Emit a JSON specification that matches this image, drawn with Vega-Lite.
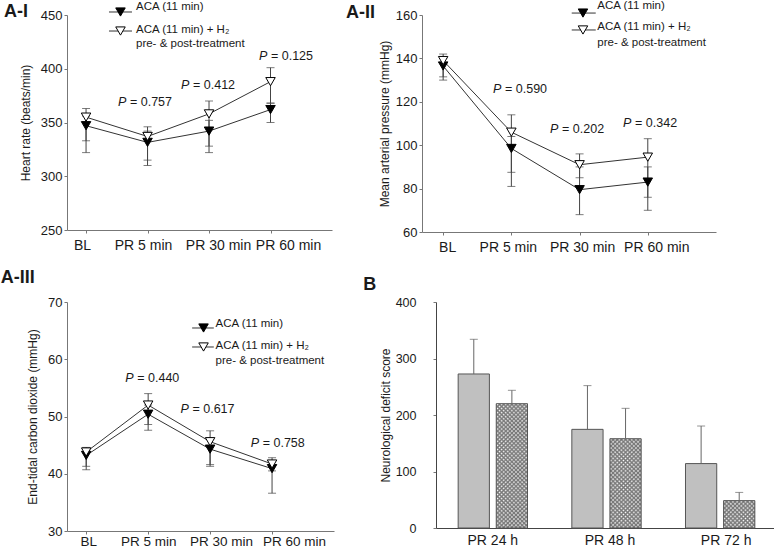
{
  "$schema": "https://vega.github.io/schema/vega-lite/v6.json",
  "padding": 0,
  "background": "white",
  "datasets": {
    "hr": [
      {"time": "BL", "i": 0, "group": "ACA", "mean": 347, "lo": 322, "hi": 356},
      {"time": "PR 5 min", "i": 1, "group": "ACA", "mean": 331.5, "lo": 310, "hi": 342},
      {"time": "PR 30 min", "i": 2, "group": "ACA", "mean": 342, "lo": 322, "hi": 352},
      {"time": "PR 60 min", "i": 3, "group": "ACA", "mean": 362, "lo": 350, "hi": 368},
      {"time": "BL", "i": 0, "group": "H2", "mean": 355, "lo": 333, "hi": 363},
      {"time": "PR 5 min", "i": 1, "group": "H2", "mean": 337, "lo": 315, "hi": 346},
      {"time": "PR 30 min", "i": 2, "group": "H2", "mean": 358, "lo": 328, "hi": 370},
      {"time": "PR 60 min", "i": 3, "group": "H2", "mean": 388, "lo": 368, "hi": 401}
    ],
    "map": [
      {"time": "BL", "i": 0, "group": "ACA", "mean": 136.5, "lo": 130, "hi": 140},
      {"time": "PR 5 min", "i": 1, "group": "ACA", "mean": 98.5, "lo": 81, "hi": 104},
      {"time": "PR 30 min", "i": 2, "group": "ACA", "mean": 79.5, "lo": 68, "hi": 90},
      {"time": "PR 60 min", "i": 3, "group": "ACA", "mean": 83, "lo": 70, "hi": 90},
      {"time": "BL", "i": 0, "group": "H2", "mean": 139, "lo": 131.5, "hi": 142},
      {"time": "PR 5 min", "i": 1, "group": "H2", "mean": 106, "lo": 87.5, "hi": 114},
      {"time": "PR 30 min", "i": 2, "group": "H2", "mean": 91, "lo": 85, "hi": 96},
      {"time": "PR 60 min", "i": 3, "group": "H2", "mean": 94.5, "lo": 76, "hi": 103}
    ],
    "etco2": [
      {"time": "BL", "i": 0, "group": "ACA", "mean": 43.2, "lo": 40.7, "hi": 44.3},
      {"time": "PR 5 min", "i": 1, "group": "ACA", "mean": 50.4, "lo": 47.6, "hi": 52},
      {"time": "PR 30 min", "i": 2, "group": "ACA", "mean": 44.3, "lo": 41.3, "hi": 46},
      {"time": "PR 60 min", "i": 3, "group": "ACA", "mean": 40.9, "lo": 36.6, "hi": 42.1},
      {"time": "BL", "i": 0, "group": "H2", "mean": 43.8, "lo": 41.3, "hi": 44.6},
      {"time": "PR 5 min", "i": 1, "group": "H2", "mean": 52, "lo": 48.6, "hi": 54},
      {"time": "PR 30 min", "i": 2, "group": "H2", "mean": 45.6, "lo": 41.6, "hi": 47.5},
      {"time": "PR 60 min", "i": 3, "group": "H2", "mean": 41.7, "lo": 40.5, "hi": 42.8}
    ],
    "nds": [
      {"time": "PR 24 h", "group": "ACA", "mean": 272.6, "hi": 334},
      {"time": "PR 48 h", "group": "ACA", "mean": 174.6, "hi": 252},
      {"time": "PR 72 h", "group": "ACA", "mean": 114, "hi": 180.5},
      {"time": "PR 24 h", "group": "H2", "mean": 220, "hi": 243.7},
      {"time": "PR 48 h", "group": "H2", "mean": 158, "hi": 211.8},
      {"time": "PR 72 h", "group": "H2", "mean": 48.4, "hi": 63}
    ]
  },
  "spacing": 15,
  "vconcat": [
    {
      "spacing": 14,
      "hconcat": [
        {
          "width": 265, "height": 215,
          "data": {"name": "hr"},
          "layer": [
            {"mark": {"type": "line", "color": "#333", "strokeWidth": 1},
             "encoding": {
               "x": {"field": "i", "type": "quantitative", "title": null, "scale": {"domain": [-0.31, 4], "nice": false, "zero": false},
                     "axis": {"values": [0, 1, 2, 3], "labelExpr": "['BL','PR 5 min','PR 30 min','PR 60 min'][datum.value]", "labelFontSize": 14, "labelPadding": 5,
                              "labelOffset": {"expr": "[-4,-4.5,9,17.5][datum.value]"}}},
               "y": {"field": "mean", "type": "quantitative", "title": "Heart rate (beats/min)", "scale": {"domain": [250, 450], "nice": false, "zero": false},
                     "axis": {"values": [250, 300, 350, 400, 450], "titlePadding": 8}},
               "detail": {"field": "group"}
             }},
            {"mark": {"type": "rule", "color": "#444", "strokeWidth": 1},
             "encoding": {"x": {"field": "i", "type": "quantitative", "title": null}, "y": {"field": "lo", "type": "quantitative", "title": "Heart rate (beats/min)"}, "y2": {"field": "hi"}}},
            {"mark": {"type": "tick", "orient": "horizontal", "size": 8, "thickness": 1, "color": "#444"},
             "encoding": {"x": {"field": "i", "type": "quantitative", "title": null}, "y": {"field": "lo", "type": "quantitative", "title": "Heart rate (beats/min)"}}},
            {"mark": {"type": "tick", "orient": "horizontal", "size": 8, "thickness": 1, "color": "#444"},
             "encoding": {"x": {"field": "i", "type": "quantitative", "title": null}, "y": {"field": "hi", "type": "quantitative", "title": "Heart rate (beats/min)"}}},
            {"mark": {"type": "point", "shape": "triangle-down", "size": 90, "filled": true, "stroke": "black", "strokeWidth": 1, "opacity": 1},
             "encoding": {"x": {"field": "i", "type": "quantitative", "title": null}, "y": {"field": "mean", "type": "quantitative", "title": "Heart rate (beats/min)"},
                          "fill": {"field": "group", "type": "nominal", "scale": {"domain": ["ACA", "H2"], "range": ["black", "white"]}, "legend": null}}},
            {"data": {"values": [{}]}, "mark": {"type": "rule", "color": "#333"}, "encoding": {"x": {"datum": 0.373}, "x2": {"datum": 0.747}, "y": {"datum": 452.8}}},
            {"data": {"values": [{}]}, "mark": {"type": "point", "shape": "triangle-down", "size": 90, "filled": true, "fill": "black", "stroke": "black", "strokeWidth": 1, "opacity": 1}, "encoding": {"x": {"datum": 0.56}, "y": {"datum": 452.8}}},
            {"data": {"values": [{}]}, "mark": {"type": "text", "text": "ACA (11 min)", "fontSize": 11.5, "align": "left", "baseline": "middle"}, "encoding": {"x": {"datum": 0.812}, "y": {"datum": 457.4}}},
            {"data": {"values": [{}]}, "mark": {"type": "rule", "color": "#333"}, "encoding": {"x": {"datum": 0.373}, "x2": {"datum": 0.747}, "y": {"datum": 435.1}}},
            {"data": {"values": [{}]}, "mark": {"type": "point", "shape": "triangle-down", "size": 90, "filled": true, "fill": "white", "stroke": "black", "strokeWidth": 1, "opacity": 1}, "encoding": {"x": {"datum": 0.56}, "y": {"datum": 435.1}}},
            {"data": {"values": [{}]}, "mark": {"type": "text", "text": "ACA (11 min) + H₂", "fontSize": 11.5, "align": "left", "baseline": "middle"}, "encoding": {"x": {"datum": 0.812}, "y": {"datum": 436.0}}},
            {"data": {"values": [{}]}, "mark": {"type": "text", "text": "pre- & post-treatment", "fontSize": 11.5, "align": "left", "baseline": "middle"}, "encoding": {"x": {"datum": 0.812}, "y": {"datum": 423.0}}},
            {"data": {"values": [{}]}, "mark": {"type": "text", "text": "P", "fontStyle": "italic", "fontSize": 12.5, "align": "left", "baseline": "middle"}, "encoding": {"x": {"datum": 0.519}, "y": {"datum": 369.1}}},
            {"data": {"values": [{}]}, "mark": {"type": "text", "text": "= 0.757", "fontSize": 12.5, "align": "left", "baseline": "middle", "dx": 12}, "encoding": {"x": {"datum": 0.519}, "y": {"datum": 369.1}}},
            {"data": {"values": [{}]}, "mark": {"type": "text", "text": "P", "fontStyle": "italic", "fontSize": 12.5, "align": "left", "baseline": "middle"}, "encoding": {"x": {"datum": 1.544}, "y": {"datum": 384.9}}},
            {"data": {"values": [{}]}, "mark": {"type": "text", "text": "= 0.412", "fontSize": 12.5, "align": "left", "baseline": "middle", "dx": 12}, "encoding": {"x": {"datum": 1.544}, "y": {"datum": 384.9}}},
            {"data": {"values": [{}]}, "mark": {"type": "text", "text": "P", "fontStyle": "italic", "fontSize": 12.5, "align": "left", "baseline": "middle"}, "encoding": {"x": {"datum": 2.812}, "y": {"datum": 411.9}}},
            {"data": {"values": [{}]}, "mark": {"type": "text", "text": "= 0.125", "fontSize": 12.5, "align": "left", "baseline": "middle", "dx": 12}, "encoding": {"x": {"datum": 2.812}, "y": {"datum": 411.9}}},
            {"data": {"values": [{}]}, "mark": {"type": "text", "text": "A-I", "fontSize": 18, "fontWeight": "bold", "align": "left", "baseline": "middle"}, "encoding": {"x": {"datum": -1.335}, "y": {"datum": 452.8}}}
          ]
        },
        {
          "width": 294, "height": 217,
          "data": {"name": "map"},
          "layer": [
            {"mark": {"type": "line", "color": "#333", "strokeWidth": 1},
             "encoding": {
               "x": {"field": "i", "type": "quantitative", "title": null, "scale": {"domain": [-0.31, 4], "nice": false, "zero": false},
                     "axis": {"values": [0, 1, 2, 3], "labelExpr": "['BL','PR 5 min','PR 30 min','PR 60 min'][datum.value]", "labelFontSize": 14, "labelPadding": 5,
                              "labelOffset": {"expr": "[4,-3.5,2.5,8.5][datum.value]"}}},
               "y": {"field": "mean", "type": "quantitative", "title": "Mean arterial pressure (mmHg)", "scale": {"domain": [60, 160], "nice": false, "zero": false},
                     "axis": {"values": [60, 80, 100, 120, 140, 160], "titlePadding": 4}},
               "detail": {"field": "group"}
             }},
            {"mark": {"type": "rule", "color": "#444", "strokeWidth": 1},
             "encoding": {"x": {"field": "i", "type": "quantitative", "title": null}, "y": {"field": "lo", "type": "quantitative", "title": "Mean arterial pressure (mmHg)"}, "y2": {"field": "hi"}}},
            {"mark": {"type": "tick", "orient": "horizontal", "size": 8, "thickness": 1, "color": "#444"},
             "encoding": {"x": {"field": "i", "type": "quantitative", "title": null}, "y": {"field": "lo", "type": "quantitative", "title": "Mean arterial pressure (mmHg)"}}},
            {"mark": {"type": "tick", "orient": "horizontal", "size": 8, "thickness": 1, "color": "#444"},
             "encoding": {"x": {"field": "i", "type": "quantitative", "title": null}, "y": {"field": "hi", "type": "quantitative", "title": "Mean arterial pressure (mmHg)"}}},
            {"mark": {"type": "point", "shape": "triangle-down", "size": 90, "filled": true, "stroke": "black", "strokeWidth": 1, "opacity": 1},
             "encoding": {"x": {"field": "i", "type": "quantitative", "title": null}, "y": {"field": "mean", "type": "quantitative", "title": "Mean arterial pressure (mmHg)"},
                          "fill": {"field": "group", "type": "nominal", "scale": {"domain": ["ACA", "H2"], "range": ["black", "white"]}, "legend": null}}},
            {"data": {"values": [{}]}, "mark": {"type": "rule", "color": "#333"}, "encoding": {"x": {"datum": 1.885}, "x2": {"datum": 2.237}, "y": {"datum": 160.9}}},
            {"data": {"values": [{}]}, "mark": {"type": "point", "shape": "triangle-down", "size": 90, "filled": true, "fill": "black", "stroke": "black", "strokeWidth": 1, "opacity": 1}, "encoding": {"x": {"datum": 2.05}, "y": {"datum": 160.9}}},
            {"data": {"values": [{}]}, "mark": {"type": "text", "text": "ACA (11 min)", "fontSize": 11.5, "align": "left", "baseline": "middle"}, "encoding": {"x": {"datum": 2.26}, "y": {"datum": 164.1}}},
            {"data": {"values": [{}]}, "mark": {"type": "rule", "color": "#333"}, "encoding": {"x": {"datum": 1.885}, "x2": {"datum": 2.237}, "y": {"datum": 153.1}}},
            {"data": {"values": [{}]}, "mark": {"type": "point", "shape": "triangle-down", "size": 90, "filled": true, "fill": "white", "stroke": "black", "strokeWidth": 1, "opacity": 1}, "encoding": {"x": {"datum": 2.05}, "y": {"datum": 153.1}}},
            {"data": {"values": [{}]}, "mark": {"type": "text", "text": "ACA (11 min) + H₂", "fontSize": 11.5, "align": "left", "baseline": "middle"}, "encoding": {"x": {"datum": 2.26}, "y": {"datum": 154.5}}},
            {"data": {"values": [{}]}, "mark": {"type": "text", "text": "pre- & post-treatment", "fontSize": 11.5, "align": "left", "baseline": "middle"}, "encoding": {"x": {"datum": 2.26}, "y": {"datum": 147.1}}},
            {"data": {"values": [{}]}, "mark": {"type": "text", "text": "P", "fontStyle": "italic", "fontSize": 12.5, "align": "left", "baseline": "middle"}, "encoding": {"x": {"datum": 0.731}, "y": {"datum": 125.9}}},
            {"data": {"values": [{}]}, "mark": {"type": "text", "text": "= 0.590", "fontSize": 12.5, "align": "left", "baseline": "middle", "dx": 12}, "encoding": {"x": {"datum": 0.731}, "y": {"datum": 125.9}}},
            {"data": {"values": [{}]}, "mark": {"type": "text", "text": "P", "fontStyle": "italic", "fontSize": 12.5, "align": "left", "baseline": "middle"}, "encoding": {"x": {"datum": 1.567}, "y": {"datum": 107.5}}},
            {"data": {"values": [{}]}, "mark": {"type": "text", "text": "= 0.202", "fontSize": 12.5, "align": "left", "baseline": "middle", "dx": 12}, "encoding": {"x": {"datum": 1.567}, "y": {"datum": 107.5}}},
            {"data": {"values": [{}]}, "mark": {"type": "text", "text": "P", "fontStyle": "italic", "fontSize": 12.5, "align": "left", "baseline": "middle"}, "encoding": {"x": {"datum": 2.637}, "y": {"datum": 110.2}}},
            {"data": {"values": [{}]}, "mark": {"type": "text", "text": "= 0.342", "fontSize": 12.5, "align": "left", "baseline": "middle", "dx": 12}, "encoding": {"x": {"datum": 2.637}, "y": {"datum": 110.2}}},
            {"data": {"values": [{}]}, "mark": {"type": "text", "text": "A-II", "fontSize": 18, "fontWeight": "bold", "align": "left", "baseline": "middle"}, "encoding": {"x": {"datum": -1.424}, "y": {"datum": 160.9}}}
          ]
        }
      ]
    },
    {
      "spacing": 29,
      "hconcat": [
        {
          "width": 267, "height": 229,
          "data": {"name": "etco2"},
          "layer": [
            {"mark": {"type": "line", "color": "#333", "strokeWidth": 1},
             "encoding": {
               "x": {"field": "i", "type": "quantitative", "title": null, "scale": {"domain": [-0.31, 4], "nice": false, "zero": false},
                     "axis": {"values": [0, 1, 2, 3], "labelExpr": "['BL','PR 5 min','PR 30 min','PR 60 min'][datum.value]", "labelFontSize": 13.5, "labelPadding": 0,
                              "labelOffset": {"expr": "[2,0,11,22][datum.value]"}}},
               "y": {"field": "mean", "type": "quantitative", "title": "End-tidal carbon dioxide (mmHg)", "scale": {"domain": [30, 70], "nice": false, "zero": false},
                     "axis": {"values": [30, 40, 50, 60, 70], "titlePadding": 8}},
               "detail": {"field": "group"}
             }},
            {"mark": {"type": "rule", "color": "#444", "strokeWidth": 1},
             "encoding": {"x": {"field": "i", "type": "quantitative", "title": null}, "y": {"field": "lo", "type": "quantitative", "title": "End-tidal carbon dioxide (mmHg)"}, "y2": {"field": "hi"}}},
            {"mark": {"type": "tick", "orient": "horizontal", "size": 8, "thickness": 1, "color": "#444"},
             "encoding": {"x": {"field": "i", "type": "quantitative", "title": null}, "y": {"field": "lo", "type": "quantitative", "title": "End-tidal carbon dioxide (mmHg)"}}},
            {"mark": {"type": "tick", "orient": "horizontal", "size": 8, "thickness": 1, "color": "#444"},
             "encoding": {"x": {"field": "i", "type": "quantitative", "title": null}, "y": {"field": "hi", "type": "quantitative", "title": "End-tidal carbon dioxide (mmHg)"}}},
            {"mark": {"type": "point", "shape": "triangle-down", "size": 90, "filled": true, "stroke": "black", "strokeWidth": 1, "opacity": 1},
             "encoding": {"x": {"field": "i", "type": "quantitative", "title": null}, "y": {"field": "mean", "type": "quantitative", "title": "End-tidal carbon dioxide (mmHg)"},
                          "fill": {"field": "group", "type": "nominal", "scale": {"domain": ["ACA", "H2"], "range": ["black", "white"]}, "legend": null}}},
            {"data": {"values": [{}]}, "mark": {"type": "rule", "color": "#333"}, "encoding": {"x": {"datum": 1.71}, "x2": {"datum": 2.06}, "y": {"datum": 65.46}}},
            {"data": {"values": [{}]}, "mark": {"type": "point", "shape": "triangle-down", "size": 90, "filled": true, "fill": "black", "stroke": "black", "strokeWidth": 1, "opacity": 1}, "encoding": {"x": {"datum": 1.894}, "y": {"datum": 65.46}}},
            {"data": {"values": [{}]}, "mark": {"type": "text", "text": "ACA (11 min)", "fontSize": 11.5, "align": "left", "baseline": "middle"}, "encoding": {"x": {"datum": 2.088}, "y": {"datum": 66.16}}},
            {"data": {"values": [{}]}, "mark": {"type": "rule", "color": "#333"}, "encoding": {"x": {"datum": 1.71}, "x2": {"datum": 2.06}, "y": {"datum": 62.14}}},
            {"data": {"values": [{}]}, "mark": {"type": "point", "shape": "triangle-down", "size": 90, "filled": true, "fill": "white", "stroke": "black", "strokeWidth": 1, "opacity": 1}, "encoding": {"x": {"datum": 1.894}, "y": {"datum": 62.14}}},
            {"data": {"values": [{}]}, "mark": {"type": "text", "text": "ACA (11 min) + H₂", "fontSize": 11.5, "align": "left", "baseline": "middle"}, "encoding": {"x": {"datum": 2.088}, "y": {"datum": 62.31}}},
            {"data": {"values": [{}]}, "mark": {"type": "text", "text": "pre- & post-treatment", "fontSize": 11.5, "align": "left", "baseline": "middle"}, "encoding": {"x": {"datum": 2.088}, "y": {"datum": 59.69}}},
            {"data": {"values": [{}]}, "mark": {"type": "text", "text": "P", "fontStyle": "italic", "fontSize": 12.5, "align": "left", "baseline": "middle"}, "encoding": {"x": {"datum": 0.63}, "y": {"datum": 56.73}}},
            {"data": {"values": [{}]}, "mark": {"type": "text", "text": "= 0.440", "fontSize": 12.5, "align": "left", "baseline": "middle", "dx": 12}, "encoding": {"x": {"datum": 0.63}, "y": {"datum": 56.73}}},
            {"data": {"values": [{}]}, "mark": {"type": "text", "text": "P", "fontStyle": "italic", "fontSize": 12.5, "align": "left", "baseline": "middle"}, "encoding": {"x": {"datum": 1.521}, "y": {"datum": 51.31}}},
            {"data": {"values": [{}]}, "mark": {"type": "text", "text": "= 0.617", "fontSize": 12.5, "align": "left", "baseline": "middle", "dx": 12}, "encoding": {"x": {"datum": 1.521}, "y": {"datum": 51.31}}},
            {"data": {"values": [{}]}, "mark": {"type": "text", "text": "P", "fontStyle": "italic", "fontSize": 12.5, "align": "left", "baseline": "middle"}, "encoding": {"x": {"datum": 2.655}, "y": {"datum": 45.37}}},
            {"data": {"values": [{}]}, "mark": {"type": "text", "text": "= 0.758", "fontSize": 12.5, "align": "left", "baseline": "middle", "dx": 12}, "encoding": {"x": {"datum": 2.655}, "y": {"datum": 45.37}}},
            {"data": {"values": [{}]}, "mark": {"type": "text", "text": "A-III", "fontSize": 18, "fontWeight": "bold", "align": "left", "baseline": "middle"}, "encoding": {"x": {"datum": -1.379}, "y": {"datum": 74.19}}}
          ]
        },
        {
          "width": 341, "height": 226,
          "data": {"name": "nds"},
          "title": {"text": "B", "anchor": "start", "frame": "bounds", "fontSize": 18, "fontWeight": "bold", "dx": -16, "offset": 2, "color": "#1a1a1a"},
          "encoding": {
            "x": {"field": "time", "type": "nominal", "title": null,
                  "scale": {"domain": ["PR 24 h", "PR 48 h", "PR 72 h"], "paddingInner": 0.39, "paddingOuter": 0.195},
                  "axis": {"labelAngle": 0, "ticks": false, "labelFontSize": 14, "labelPadding": 5, "domainColor": "#444",
                           "labelOffset": {"expr": "datum.value == 'PR 72 h' ? 6 : datum.value == 'PR 48 h' ? 3.5 : 0"}}},
            "xOffset": {"field": "group", "type": "nominal", "scale": {"domain": ["ACA", "H2"], "paddingInner": 0.18, "paddingOuter": 0}},
            "y": {"field": "mean", "type": "quantitative", "title": "Neurological deficit score", "scale": {"domain": [0, 400], "nice": false},
                  "axis": {"values": [0, 100, 200, 300, 400], "labelFontSize": 12.5, "labelPadding": 17, "titlePadding": 3, "domainColor": "#444"}}
          },
          "layer": [
            {"transform": [{"filter": "datum.group == 'ACA'"}],
             "mark": {"type": "bar", "fill": "#c0c0c0", "stroke": "#555", "strokeWidth": 1}},
            {"transform": [{"filter": "datum.group == 'H2' && datum.time == 'PR 24 h'"}],
             "mark": {"type": "bar", "strokeWidth": 0, "fill": {"gradient": "linear", "x1": 0, "y1": 0, "x2": 0.2954, "y2": 1.1769, "stops": [
               {"offset": 0, "color": "#777"}, {"offset": 0.01316, "color": "#fff"}, {"offset": 0.02632, "color": "#777"}, {"offset": 0.03947, "color": "#fff"}, {"offset": 0.05263, "color": "#777"}, {"offset": 0.06579, "color": "#fff"}, {"offset": 0.07895, "color": "#777"}, {"offset": 0.09211, "color": "#fff"}, {"offset": 0.10526, "color": "#777"}, {"offset": 0.11842, "color": "#fff"},
               {"offset": 0.13158, "color": "#777"}, {"offset": 0.14474, "color": "#fff"}, {"offset": 0.15789, "color": "#777"}, {"offset": 0.17105, "color": "#fff"}, {"offset": 0.18421, "color": "#777"}, {"offset": 0.19737, "color": "#fff"}, {"offset": 0.21053, "color": "#777"}, {"offset": 0.22368, "color": "#fff"}, {"offset": 0.23684, "color": "#777"}, {"offset": 0.25, "color": "#fff"},
               {"offset": 0.26316, "color": "#777"}, {"offset": 0.27632, "color": "#fff"}, {"offset": 0.28947, "color": "#777"}, {"offset": 0.30263, "color": "#fff"}, {"offset": 0.31579, "color": "#777"}, {"offset": 0.32895, "color": "#fff"}, {"offset": 0.34211, "color": "#777"}, {"offset": 0.35526, "color": "#fff"}, {"offset": 0.36842, "color": "#777"}, {"offset": 0.38158, "color": "#fff"},
               {"offset": 0.39474, "color": "#777"}, {"offset": 0.40789, "color": "#fff"}, {"offset": 0.42105, "color": "#777"}, {"offset": 0.43421, "color": "#fff"}, {"offset": 0.44737, "color": "#777"}, {"offset": 0.46053, "color": "#fff"}, {"offset": 0.47368, "color": "#777"}, {"offset": 0.48684, "color": "#fff"}, {"offset": 0.5, "color": "#777"}, {"offset": 0.51316, "color": "#fff"},
               {"offset": 0.52632, "color": "#777"}, {"offset": 0.53947, "color": "#fff"}, {"offset": 0.55263, "color": "#777"}, {"offset": 0.56579, "color": "#fff"}, {"offset": 0.57895, "color": "#777"}, {"offset": 0.59211, "color": "#fff"}, {"offset": 0.60526, "color": "#777"}, {"offset": 0.61842, "color": "#fff"}, {"offset": 0.63158, "color": "#777"}, {"offset": 0.64474, "color": "#fff"},
               {"offset": 0.65789, "color": "#777"}, {"offset": 0.67105, "color": "#fff"}, {"offset": 0.68421, "color": "#777"}, {"offset": 0.69737, "color": "#fff"}, {"offset": 0.71053, "color": "#777"}, {"offset": 0.72368, "color": "#fff"}, {"offset": 0.73684, "color": "#777"}, {"offset": 0.75, "color": "#fff"}, {"offset": 0.76316, "color": "#777"}, {"offset": 0.77632, "color": "#fff"},
               {"offset": 0.78947, "color": "#777"}, {"offset": 0.80263, "color": "#fff"}, {"offset": 0.81579, "color": "#777"}, {"offset": 0.82895, "color": "#fff"}, {"offset": 0.84211, "color": "#777"}, {"offset": 0.85526, "color": "#fff"}, {"offset": 0.86842, "color": "#777"}, {"offset": 0.88158, "color": "#fff"}, {"offset": 0.89474, "color": "#777"}, {"offset": 0.90789, "color": "#fff"},
               {"offset": 0.92105, "color": "#777"}, {"offset": 0.93421, "color": "#fff"}, {"offset": 0.94737, "color": "#777"}, {"offset": 0.96053, "color": "#fff"}, {"offset": 0.97368, "color": "#777"}, {"offset": 0.98684, "color": "#fff"}, {"offset": 1, "color": "#777"}]}}},
            {"transform": [{"filter": "datum.group == 'H2' && datum.time == 'PR 24 h'"}],
             "mark": {"type": "bar", "stroke": "#555", "strokeWidth": 1, "fill": {"gradient": "linear", "x1": 0, "y1": 1, "x2": 0.2954, "y2": -0.1769, "stops": [
               {"offset": 0, "color": "#777"}, {"offset": 0.01316, "color": "rgba(119,119,119,0)"}, {"offset": 0.02632, "color": "#777"}, {"offset": 0.03947, "color": "rgba(119,119,119,0)"}, {"offset": 0.05263, "color": "#777"}, {"offset": 0.06579, "color": "rgba(119,119,119,0)"}, {"offset": 0.07895, "color": "#777"}, {"offset": 0.09211, "color": "rgba(119,119,119,0)"}, {"offset": 0.10526, "color": "#777"}, {"offset": 0.11842, "color": "rgba(119,119,119,0)"},
               {"offset": 0.13158, "color": "#777"}, {"offset": 0.14474, "color": "rgba(119,119,119,0)"}, {"offset": 0.15789, "color": "#777"}, {"offset": 0.17105, "color": "rgba(119,119,119,0)"}, {"offset": 0.18421, "color": "#777"}, {"offset": 0.19737, "color": "rgba(119,119,119,0)"}, {"offset": 0.21053, "color": "#777"}, {"offset": 0.22368, "color": "rgba(119,119,119,0)"}, {"offset": 0.23684, "color": "#777"}, {"offset": 0.25, "color": "rgba(119,119,119,0)"},
               {"offset": 0.26316, "color": "#777"}, {"offset": 0.27632, "color": "rgba(119,119,119,0)"}, {"offset": 0.28947, "color": "#777"}, {"offset": 0.30263, "color": "rgba(119,119,119,0)"}, {"offset": 0.31579, "color": "#777"}, {"offset": 0.32895, "color": "rgba(119,119,119,0)"}, {"offset": 0.34211, "color": "#777"}, {"offset": 0.35526, "color": "rgba(119,119,119,0)"}, {"offset": 0.36842, "color": "#777"}, {"offset": 0.38158, "color": "rgba(119,119,119,0)"},
               {"offset": 0.39474, "color": "#777"}, {"offset": 0.40789, "color": "rgba(119,119,119,0)"}, {"offset": 0.42105, "color": "#777"}, {"offset": 0.43421, "color": "rgba(119,119,119,0)"}, {"offset": 0.44737, "color": "#777"}, {"offset": 0.46053, "color": "rgba(119,119,119,0)"}, {"offset": 0.47368, "color": "#777"}, {"offset": 0.48684, "color": "rgba(119,119,119,0)"}, {"offset": 0.5, "color": "#777"}, {"offset": 0.51316, "color": "rgba(119,119,119,0)"},
               {"offset": 0.52632, "color": "#777"}, {"offset": 0.53947, "color": "rgba(119,119,119,0)"}, {"offset": 0.55263, "color": "#777"}, {"offset": 0.56579, "color": "rgba(119,119,119,0)"}, {"offset": 0.57895, "color": "#777"}, {"offset": 0.59211, "color": "rgba(119,119,119,0)"}, {"offset": 0.60526, "color": "#777"}, {"offset": 0.61842, "color": "rgba(119,119,119,0)"}, {"offset": 0.63158, "color": "#777"}, {"offset": 0.64474, "color": "rgba(119,119,119,0)"},
               {"offset": 0.65789, "color": "#777"}, {"offset": 0.67105, "color": "rgba(119,119,119,0)"}, {"offset": 0.68421, "color": "#777"}, {"offset": 0.69737, "color": "rgba(119,119,119,0)"}, {"offset": 0.71053, "color": "#777"}, {"offset": 0.72368, "color": "rgba(119,119,119,0)"}, {"offset": 0.73684, "color": "#777"}, {"offset": 0.75, "color": "rgba(119,119,119,0)"}, {"offset": 0.76316, "color": "#777"}, {"offset": 0.77632, "color": "rgba(119,119,119,0)"},
               {"offset": 0.78947, "color": "#777"}, {"offset": 0.80263, "color": "rgba(119,119,119,0)"}, {"offset": 0.81579, "color": "#777"}, {"offset": 0.82895, "color": "rgba(119,119,119,0)"}, {"offset": 0.84211, "color": "#777"}, {"offset": 0.85526, "color": "rgba(119,119,119,0)"}, {"offset": 0.86842, "color": "#777"}, {"offset": 0.88158, "color": "rgba(119,119,119,0)"}, {"offset": 0.89474, "color": "#777"}, {"offset": 0.90789, "color": "rgba(119,119,119,0)"},
               {"offset": 0.92105, "color": "#777"}, {"offset": 0.93421, "color": "rgba(119,119,119,0)"}, {"offset": 0.94737, "color": "#777"}, {"offset": 0.96053, "color": "rgba(119,119,119,0)"}, {"offset": 0.97368, "color": "#777"}, {"offset": 0.98684, "color": "rgba(119,119,119,0)"}, {"offset": 1, "color": "#777"}]}}},
            {"transform": [{"filter": "datum.group == 'H2' && datum.time == 'PR 48 h'"}],
             "mark": {"type": "bar", "strokeWidth": 0, "fill": {"gradient": "linear", "x1": 0, "y1": 0, "x2": 0.4202, "y2": 1.2026, "stops": [
               {"offset": 0, "color": "#777"}, {"offset": 0.01724, "color": "#fff"}, {"offset": 0.03448, "color": "#777"}, {"offset": 0.05172, "color": "#fff"}, {"offset": 0.06897, "color": "#777"}, {"offset": 0.08621, "color": "#fff"}, {"offset": 0.10345, "color": "#777"}, {"offset": 0.12069, "color": "#fff"}, {"offset": 0.13793, "color": "#777"}, {"offset": 0.15517, "color": "#fff"},
               {"offset": 0.17241, "color": "#777"}, {"offset": 0.18966, "color": "#fff"}, {"offset": 0.2069, "color": "#777"}, {"offset": 0.22414, "color": "#fff"}, {"offset": 0.24138, "color": "#777"}, {"offset": 0.25862, "color": "#fff"}, {"offset": 0.27586, "color": "#777"}, {"offset": 0.2931, "color": "#fff"}, {"offset": 0.31034, "color": "#777"}, {"offset": 0.32759, "color": "#fff"},
               {"offset": 0.34483, "color": "#777"}, {"offset": 0.36207, "color": "#fff"}, {"offset": 0.37931, "color": "#777"}, {"offset": 0.39655, "color": "#fff"}, {"offset": 0.41379, "color": "#777"}, {"offset": 0.43103, "color": "#fff"}, {"offset": 0.44828, "color": "#777"}, {"offset": 0.46552, "color": "#fff"}, {"offset": 0.48276, "color": "#777"}, {"offset": 0.5, "color": "#fff"},
               {"offset": 0.51724, "color": "#777"}, {"offset": 0.53448, "color": "#fff"}, {"offset": 0.55172, "color": "#777"}, {"offset": 0.56897, "color": "#fff"}, {"offset": 0.58621, "color": "#777"}, {"offset": 0.60345, "color": "#fff"}, {"offset": 0.62069, "color": "#777"}, {"offset": 0.63793, "color": "#fff"}, {"offset": 0.65517, "color": "#777"}, {"offset": 0.67241, "color": "#fff"},
               {"offset": 0.68966, "color": "#777"}, {"offset": 0.7069, "color": "#fff"}, {"offset": 0.72414, "color": "#777"}, {"offset": 0.74138, "color": "#fff"}, {"offset": 0.75862, "color": "#777"}, {"offset": 0.77586, "color": "#fff"}, {"offset": 0.7931, "color": "#777"}, {"offset": 0.81034, "color": "#fff"}, {"offset": 0.82759, "color": "#777"}, {"offset": 0.84483, "color": "#fff"},
               {"offset": 0.86207, "color": "#777"}, {"offset": 0.87931, "color": "#fff"}, {"offset": 0.89655, "color": "#777"}, {"offset": 0.91379, "color": "#fff"}, {"offset": 0.93103, "color": "#777"}, {"offset": 0.94828, "color": "#fff"}, {"offset": 0.96552, "color": "#777"}, {"offset": 0.98276, "color": "#fff"}, {"offset": 1, "color": "#777"}]}}},
            {"transform": [{"filter": "datum.group == 'H2' && datum.time == 'PR 48 h'"}],
             "mark": {"type": "bar", "stroke": "#555", "strokeWidth": 1, "fill": {"gradient": "linear", "x1": 0, "y1": 1, "x2": 0.4202, "y2": -0.2026, "stops": [
               {"offset": 0, "color": "#777"}, {"offset": 0.01724, "color": "rgba(119,119,119,0)"}, {"offset": 0.03448, "color": "#777"}, {"offset": 0.05172, "color": "rgba(119,119,119,0)"}, {"offset": 0.06897, "color": "#777"}, {"offset": 0.08621, "color": "rgba(119,119,119,0)"}, {"offset": 0.10345, "color": "#777"}, {"offset": 0.12069, "color": "rgba(119,119,119,0)"}, {"offset": 0.13793, "color": "#777"}, {"offset": 0.15517, "color": "rgba(119,119,119,0)"},
               {"offset": 0.17241, "color": "#777"}, {"offset": 0.18966, "color": "rgba(119,119,119,0)"}, {"offset": 0.2069, "color": "#777"}, {"offset": 0.22414, "color": "rgba(119,119,119,0)"}, {"offset": 0.24138, "color": "#777"}, {"offset": 0.25862, "color": "rgba(119,119,119,0)"}, {"offset": 0.27586, "color": "#777"}, {"offset": 0.2931, "color": "rgba(119,119,119,0)"}, {"offset": 0.31034, "color": "#777"}, {"offset": 0.32759, "color": "rgba(119,119,119,0)"},
               {"offset": 0.34483, "color": "#777"}, {"offset": 0.36207, "color": "rgba(119,119,119,0)"}, {"offset": 0.37931, "color": "#777"}, {"offset": 0.39655, "color": "rgba(119,119,119,0)"}, {"offset": 0.41379, "color": "#777"}, {"offset": 0.43103, "color": "rgba(119,119,119,0)"}, {"offset": 0.44828, "color": "#777"}, {"offset": 0.46552, "color": "rgba(119,119,119,0)"}, {"offset": 0.48276, "color": "#777"}, {"offset": 0.5, "color": "rgba(119,119,119,0)"},
               {"offset": 0.51724, "color": "#777"}, {"offset": 0.53448, "color": "rgba(119,119,119,0)"}, {"offset": 0.55172, "color": "#777"}, {"offset": 0.56897, "color": "rgba(119,119,119,0)"}, {"offset": 0.58621, "color": "#777"}, {"offset": 0.60345, "color": "rgba(119,119,119,0)"}, {"offset": 0.62069, "color": "#777"}, {"offset": 0.63793, "color": "rgba(119,119,119,0)"}, {"offset": 0.65517, "color": "#777"}, {"offset": 0.67241, "color": "rgba(119,119,119,0)"},
               {"offset": 0.68966, "color": "#777"}, {"offset": 0.7069, "color": "rgba(119,119,119,0)"}, {"offset": 0.72414, "color": "#777"}, {"offset": 0.74138, "color": "rgba(119,119,119,0)"}, {"offset": 0.75862, "color": "#777"}, {"offset": 0.77586, "color": "rgba(119,119,119,0)"}, {"offset": 0.7931, "color": "#777"}, {"offset": 0.81034, "color": "rgba(119,119,119,0)"}, {"offset": 0.82759, "color": "#777"}, {"offset": 0.84483, "color": "rgba(119,119,119,0)"},
               {"offset": 0.86207, "color": "#777"}, {"offset": 0.87931, "color": "rgba(119,119,119,0)"}, {"offset": 0.89655, "color": "#777"}, {"offset": 0.91379, "color": "rgba(119,119,119,0)"}, {"offset": 0.93103, "color": "#777"}, {"offset": 0.94828, "color": "rgba(119,119,119,0)"}, {"offset": 0.96552, "color": "#777"}, {"offset": 0.98276, "color": "rgba(119,119,119,0)"}, {"offset": 1, "color": "#777"}]}}},
            {"transform": [{"filter": "datum.group == 'H2' && datum.time == 'PR 72 h'"}],
             "mark": {"type": "bar", "strokeWidth": 0, "fill": {"gradient": "linear", "x1": 0, "y1": 0, "x2": 1.0612, "y2": 0.9303, "stops": [
               {"offset": 0, "color": "#777"}, {"offset": 0.03571, "color": "#fff"}, {"offset": 0.07143, "color": "#777"}, {"offset": 0.10714, "color": "#fff"}, {"offset": 0.14286, "color": "#777"}, {"offset": 0.17857, "color": "#fff"}, {"offset": 0.21429, "color": "#777"}, {"offset": 0.25, "color": "#fff"}, {"offset": 0.28571, "color": "#777"}, {"offset": 0.32143, "color": "#fff"},
               {"offset": 0.35714, "color": "#777"}, {"offset": 0.39286, "color": "#fff"}, {"offset": 0.42857, "color": "#777"}, {"offset": 0.46429, "color": "#fff"}, {"offset": 0.5, "color": "#777"}, {"offset": 0.53571, "color": "#fff"}, {"offset": 0.57143, "color": "#777"}, {"offset": 0.60714, "color": "#fff"}, {"offset": 0.64286, "color": "#777"}, {"offset": 0.67857, "color": "#fff"},
               {"offset": 0.71429, "color": "#777"}, {"offset": 0.75, "color": "#fff"}, {"offset": 0.78571, "color": "#777"}, {"offset": 0.82143, "color": "#fff"}, {"offset": 0.85714, "color": "#777"}, {"offset": 0.89286, "color": "#fff"}, {"offset": 0.92857, "color": "#777"}, {"offset": 0.96429, "color": "#fff"}, {"offset": 1, "color": "#777"}]}}},
            {"transform": [{"filter": "datum.group == 'H2' && datum.time == 'PR 72 h'"}],
             "mark": {"type": "bar", "stroke": "#555", "strokeWidth": 1, "fill": {"gradient": "linear", "x1": 0, "y1": 1, "x2": 1.0612, "y2": 0.0697, "stops": [
               {"offset": 0, "color": "#777"}, {"offset": 0.03571, "color": "rgba(119,119,119,0)"}, {"offset": 0.07143, "color": "#777"}, {"offset": 0.10714, "color": "rgba(119,119,119,0)"}, {"offset": 0.14286, "color": "#777"}, {"offset": 0.17857, "color": "rgba(119,119,119,0)"}, {"offset": 0.21429, "color": "#777"}, {"offset": 0.25, "color": "rgba(119,119,119,0)"}, {"offset": 0.28571, "color": "#777"}, {"offset": 0.32143, "color": "rgba(119,119,119,0)"},
               {"offset": 0.35714, "color": "#777"}, {"offset": 0.39286, "color": "rgba(119,119,119,0)"}, {"offset": 0.42857, "color": "#777"}, {"offset": 0.46429, "color": "rgba(119,119,119,0)"}, {"offset": 0.5, "color": "#777"}, {"offset": 0.53571, "color": "rgba(119,119,119,0)"}, {"offset": 0.57143, "color": "#777"}, {"offset": 0.60714, "color": "rgba(119,119,119,0)"}, {"offset": 0.64286, "color": "#777"}, {"offset": 0.67857, "color": "rgba(119,119,119,0)"},
               {"offset": 0.71429, "color": "#777"}, {"offset": 0.75, "color": "rgba(119,119,119,0)"}, {"offset": 0.78571, "color": "#777"}, {"offset": 0.82143, "color": "rgba(119,119,119,0)"}, {"offset": 0.85714, "color": "#777"}, {"offset": 0.89286, "color": "rgba(119,119,119,0)"}, {"offset": 0.92857, "color": "#777"}, {"offset": 0.96429, "color": "rgba(119,119,119,0)"}, {"offset": 1, "color": "#777"}]}}},
            {"mark": {"type": "rule", "color": "#666", "strokeWidth": 1},
             "encoding": {"y2": {"field": "hi"}}},
            {"mark": {"type": "tick", "orient": "horizontal", "size": 8, "thickness": 1, "color": "#666"},
             "encoding": {"y": {"field": "hi", "type": "quantitative", "title": "Neurological deficit score"}}},
            {"data": {"values": [{}]}, "mark": {"type": "text", "text": "P", "fontStyle": "italic", "fontSize": 12, "align": "left", "baseline": "middle", "dx": -30}, "encoding": {"x": {"datum": "PR 24 h"}, "xOffset": null, "y": {"datum": 373.5}}},
            {"data": {"values": [{}]}, "mark": {"type": "text", "text": "= 0.401", "fontSize": 12, "align": "left", "baseline": "middle", "dx": -19}, "encoding": {"x": {"datum": "PR 24 h"}, "xOffset": null, "y": {"datum": 373.5}}},
            {"data": {"values": [{}]}, "mark": {"type": "text", "text": "P", "fontStyle": "italic", "fontSize": 12, "align": "left", "baseline": "middle", "dx": -26.5}, "encoding": {"x": {"datum": "PR 48 h"}, "xOffset": null, "y": {"datum": 302.7}}},
            {"data": {"values": [{}]}, "mark": {"type": "text", "text": "= 0.869", "fontSize": 12, "align": "left", "baseline": "middle", "dx": -15.5}, "encoding": {"x": {"datum": "PR 48 h"}, "xOffset": null, "y": {"datum": 302.7}}},
            {"data": {"values": [{}]}, "mark": {"type": "text", "text": "P", "fontStyle": "italic", "fontSize": 12, "align": "left", "baseline": "middle", "dx": -23}, "encoding": {"x": {"datum": "PR 72 h"}, "xOffset": null, "y": {"datum": 230.1}}},
            {"data": {"values": [{}]}, "mark": {"type": "text", "text": "= 0.392", "fontSize": 12, "align": "left", "baseline": "middle", "dx": -12}, "encoding": {"x": {"datum": "PR 72 h"}, "xOffset": null, "y": {"datum": 230.1}}}
          ]
        }
      ]
    }
  ],
  "config": {
    "font": "Liberation Sans",
    "view": {"stroke": null},
    "axis": {"grid": false, "domainColor": "#777", "tickColor": "#777", "tickSize": 3, "labelColor": "#1a1a1a", "titleColor": "#1a1a1a",
             "titleFontWeight": "normal", "titleFontSize": 12, "labelFontSize": 13, "labelFont": "Liberation Sans", "titleFont": "Liberation Sans",
             "labelFlush": false, "labelOverlap": false, "labelBound": false},
    "text": {"font": "Liberation Sans", "color": "#1a1a1a"},
    "title": {"font": "Liberation Sans"}
  }
}
